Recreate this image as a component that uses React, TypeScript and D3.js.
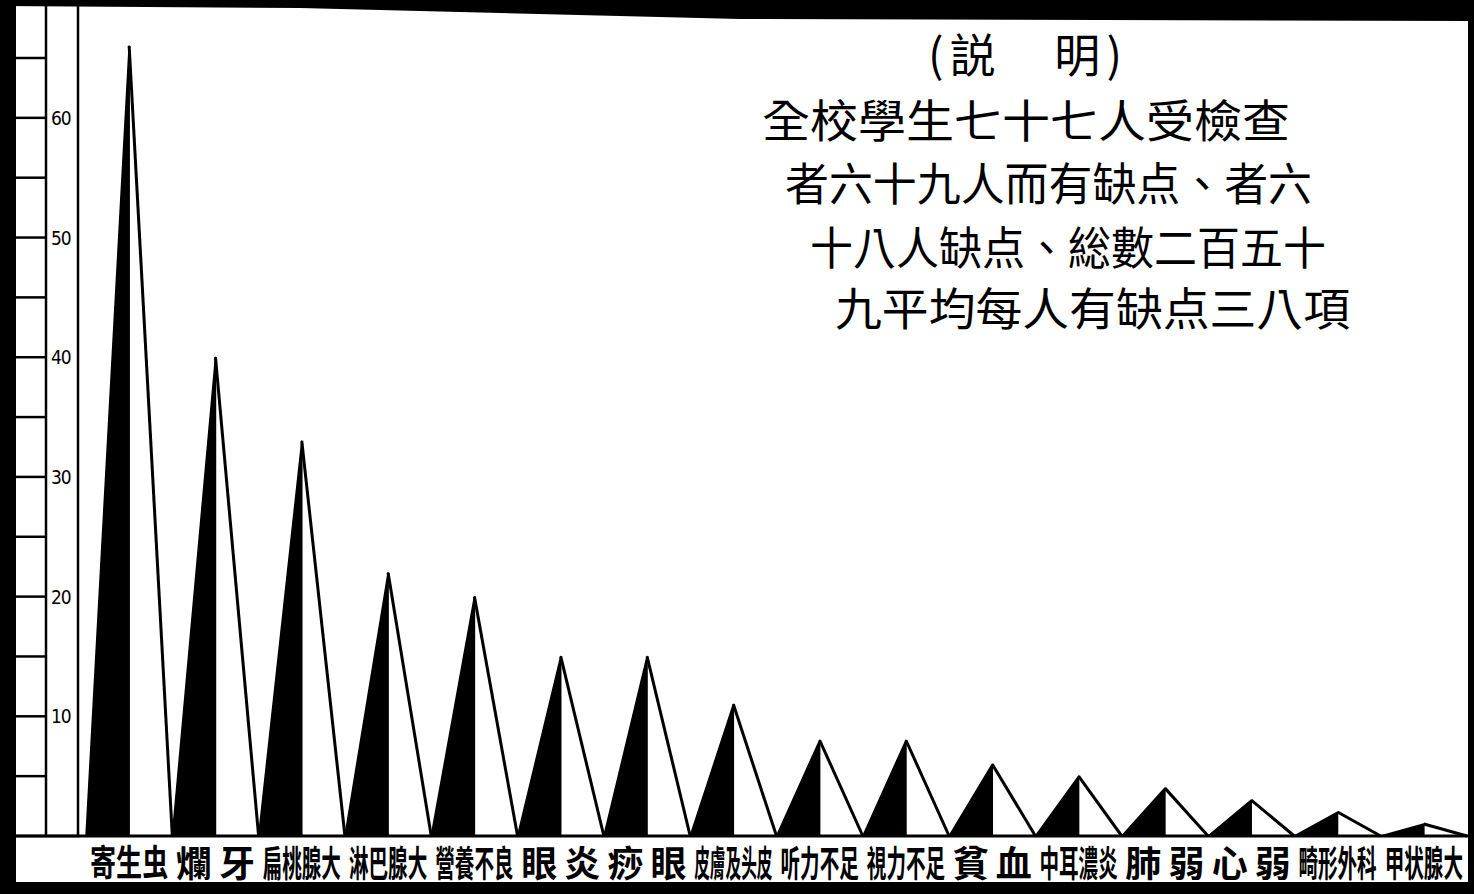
import React from 'react';
import * as d3 from 'd3';

// 檢查缺点 categories and counts
const categories = [
    '寄生虫', '爛牙', '扁桃腺大', '淋巴腺大', '營養不良', '眼炎', '痧眼', '皮膚及头皮',
    '听力不足', '視力不足', '貧血', '中耳濃炎', '肺弱', '心弱', '畸形外科', '甲状腺大'
];
const counts = [66, 40, 33, 22, 20, 15, 15, 11, 8, 8, 6, 5, 4, 3, 2, 1];

const rulerTicks = [0, 5, 10, 15, 20, 25, 30, 35, 40, 45, 50, 55, 60, 65];
const rulerLabels = [10, 20, 30, 40, 50, 60];

const noteTitle = '(説　明)';
const noteLines = [
    '全校學生七十七人受檢查',
    '者六十九人而有缺点、者六',
    '十八人缺点、総數二百五十',
    '九平均每人有缺点三八項'
];

const W = 1474;
const H = 894;
const baseY = 836;
const cjk = '"Noto Sans CJK TC", "Noto Sans CJK JP", sans-serif';

const App = () => {
    const y = d3.scaleLinear().domain([0, 65]).range([baseY, 58]);
    const x = d3.scaleBand().domain(categories).range([86, 1467]).padding(0);
    const bw = x.bandwidth();

    // where each note line sits: [left, right, centre y]
    const noteBoxes = [
        [762, 1290, 118],
        [785, 1312, 181],
        [810, 1326, 245],
        [835, 1350, 306]
    ];

    const labelSize = 36;
    const labelY = 861;

    const renderLabel = (c: string) => {
        const x0 = x(c) as number;
        const cx = x0 + bw / 2;
        const chars = Array.from(c);
        if (chars.length <= 2) {
            // two characters spread across the band
            return (
                <g key={c}>
                    {chars.map((ch, j) => (
                        <text key={j} x={x0 + bw * (j + 0.5) / chars.length} y={labelY} textAnchor="middle"
                            dominantBaseline="central" fontFamily={cjk} fontWeight={700} fontSize={labelSize}
                            fill="#000">{ch}</text>
                    ))}
                </g>
            );
        }
        const target = bw - 8;
        const natural = chars.length * labelSize;
        const sx = Math.min(1, target / natural);
        return (
            <text key={c} transform={`translate(${cx},${labelY}) scale(${sx},1)`} textAnchor="middle"
                dominantBaseline="central" fontFamily={cjk} fontWeight={700} fontSize={labelSize}
                fill="#000">{c}</text>
        );
    };

    return (
        <svg width={W} height={H} style={{ position: 'absolute', left: 0, top: 0, background: '#fff' }}>
            <rect x={0} y={0} width={W} height={H} fill="#fff" />

            {/* ruler */}
            {rulerTicks.map(t => (
                <line key={t} x1={16} x2={t === 0 ? 80 : 46} y1={y(t)} y2={y(t)} stroke="#000" strokeWidth={2.5} />
            ))}
            <line x1={46} x2={46} y1={0} y2={baseY} stroke="#000" strokeWidth={2.5} />
            <line x1={78} x2={78} y1={0} y2={baseY} stroke="#000" strokeWidth={2.5} />
            {rulerLabels.map(t => (
                <text key={t} x={51} y={y(t)} dominantBaseline="central" fontFamily="DejaVu Sans Condensed, DejaVu Sans"
                    fontSize={19} letterSpacing={-1} fill="#000">{t}</text>
            ))}

            {/* peaks: left half black, right half white outlined */}
            {categories.map((c, i) => {
                const x0 = x(c) as number;
                const xc = x0 + bw / 2;
                const x1 = x0 + bw;
                const ty = y(counts[i]);
                return (
                    <g key={c}>
                        <path d={`M${x0},${baseY}L${xc},${ty}L${xc},${baseY}Z`} fill="#000" stroke="#000" strokeWidth={1.5} strokeLinejoin="round" />
                        <path d={`M${xc},${ty}L${x1},${baseY}`} fill="none" stroke="#000" strokeWidth={3} />
                    </g>
                );
            })}

            {/* baseline */}
            <line x1={16} x2={W} y1={baseY} y2={baseY} stroke="#000" strokeWidth={3} />

            {/* category labels */}
            {categories.map(renderLabel)}

            {/* note block */}
            <text x={928} y={52} dominantBaseline="central" fontFamily={cjk} fontSize={46} fill="#000"
                textLength={194} lengthAdjust="spacing">{noteTitle}</text>
            {noteLines.map((s, i) => {
                const [l, r, cy] = noteBoxes[i];
                return (
                    <text key={i} x={l} y={cy} dominantBaseline="central" fontFamily={cjk} fontSize={45}
                        fill="#000" textLength={r - l} lengthAdjust="spacingAndGlyphs">{s}</text>
                );
            })}

            {/* frame */}
            <polygon points={`0,0 ${W},0 ${W},21 740,19 300,8 0,6`} fill="#000" />
            <rect x={0} y={0} width={16} height={H} fill="#000" />
            <rect x={1468} y={0} width={6} height={H} fill="#000" />
            <rect x={0} y={882} width={W} height={12} fill="#000" />
        </svg>
    );
};

export default App;
